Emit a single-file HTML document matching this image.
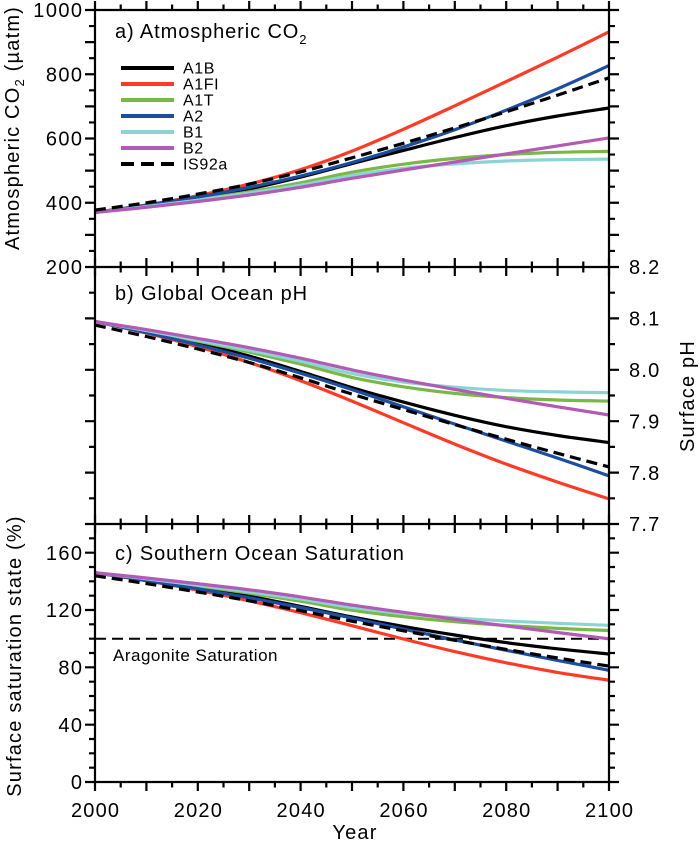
<!DOCTYPE html>
<html><head><meta charset="utf-8"><style>
html,body{margin:0;padding:0;background:#fff;}
svg{display:block;font-family:"Liberation Sans",Arial,Helvetica,sans-serif;}
</style></head><body>
<svg width="700" height="842" viewBox="0 0 700 842" xmlns="http://www.w3.org/2000/svg">
<rect width="700" height="842" fill="#fff"/>

<!-- series panel a -->
<g fill="none" stroke-width="3.2" stroke-linejoin="round" stroke-linecap="butt">
<polyline class="s" stroke="#000" points="95,212.4 146.4,205.6 197.8,198.3 249.2,188.9 300.6,177.1 352,163.6 403.4,150.4 454.8,137.5 506.2,125.7 557.6,116.0 609,108.0"/>
<polyline class="s" stroke="#ff3b26" points="95,212.4 146.4,205.0 197.8,195.7 249.2,184.1 300.6,169.6 352,151.1 403.4,129.3 454.8,105.8 506.2,81.6 557.6,57.2 609,31.8"/>
<polyline class="s" stroke="#79b844" points="95,212.4 146.4,206.3 197.8,199.5 249.2,191.8 300.6,182.8 352,172.2 403.4,164.2 454.8,158.4 506.2,154.6 557.6,152.3 609,151.4"/>
<polyline class="s" stroke="#1b4da0" points="95,212.4 146.4,205.3 197.8,197.0 249.2,187.4 300.6,176.0 352,162.5 403.4,147.0 454.8,129.7 506.2,110.2 557.6,88.8 609,65.6"/>
<polyline class="s" stroke="#8bd4d3" points="95,212.4 146.4,206.6 197.8,200.2 249.2,193.1 300.6,185.1 352,175.4 403.4,168.4 454.8,163.9 506.2,161.0 557.6,159.7 609,159.1"/>
<polyline class="s" stroke="#b25ab5" points="95,212.4 146.4,207.3 197.8,201.5 249.2,195.0 300.6,187.3 352,178.3 403.4,170.0 454.8,162.0 506.2,153.9 557.6,145.9 609,137.9"/>
<polyline class="s" stroke="#000" stroke-dasharray="11 6" points="95,210.1 146.4,202.8 197.8,194.1 249.2,184.1 300.6,171.9 352,157.8 403.4,143.3 454.8,127.9 506.2,111.8 557.6,95.1 609,77.8"/>
</g>

<!-- series panel b -->
<g fill="none" stroke-width="3.2" stroke-linejoin="round">
<polyline class="s" stroke="#000" points="95,321.5 146.4,332.1 197.8,343.1 249.2,356.1 300.6,371.5 352,387.6 403.4,402.1 454.8,415.3 506.2,426.7 557.6,435.5 609,442.5"/>
<polyline class="s" stroke="#ff3b26" points="95,321.5 146.4,333.1 197.8,346.7 249.2,362.5 300.6,380.7 352,401.1 403.4,422.7 454.8,444.1 506.2,464.1 557.6,482.1 609,498.9"/>
<polyline class="s" stroke="#79b844" points="95,321.5 146.4,331.1 197.8,341.2 249.2,352.1 300.6,364.1 352,377.4 403.4,386.8 454.8,393.4 506.2,397.6 557.6,400.0 609,401.1"/>
<polyline class="s" stroke="#1b4da0" points="95,321.5 146.4,332.6 197.8,344.9 249.2,358.2 300.6,373.2 352,389.6 403.4,406.8 454.8,424.1 506.2,441.1 557.6,458.1 609,475.9"/>
<polyline class="s" stroke="#8bd4d3" points="95,321.5 146.4,330.6 197.8,340.3 249.2,350.4 300.6,361.2 352,373.5 403.4,382.0 454.8,387.2 506.2,390.5 557.6,391.9 609,392.7"/>
<polyline class="s" stroke="#b25ab5" points="95,321.5 146.4,329.6 197.8,338.4 249.2,347.7 300.6,358.2 352,369.9 403.4,380.1 454.8,389.4 506.2,398.3 557.6,406.8 609,415.0"/>
<polyline class="s" stroke="#000" stroke-dasharray="11 6" points="95,325.1 146.4,336.5 197.8,349.0 249.2,362.5 300.6,377.8 352,394.1 403.4,409.5 454.8,424.6 506.2,439.2 557.6,453.3 609,466.9"/>
</g>

<!-- aragonite line -->
<line x1="95" y1="638.7" x2="609" y2="638.7" stroke="#000" stroke-width="2" stroke-dasharray="11 6"/>

<!-- series panel c -->
<g fill="none" stroke-width="3.2" stroke-linejoin="round">
<polyline class="s" stroke="#000" points="95,572.7 146.4,580.1 197.8,587.4 249.2,596.2 300.6,606.4 352,617.0 403.4,626.4 454.8,635.0 506.2,642.6 557.6,648.8 609,654.0"/>
<polyline class="s" stroke="#ff3b26" points="95,572.7 146.4,580.8 197.8,590.2 249.2,600.8 300.6,612.7 352,625.7 403.4,639.0 454.8,651.6 506.2,662.8 557.6,672.4 609,680.2"/>
<polyline class="s" stroke="#79b844" points="95,572.7 146.4,579.2 197.8,585.9 249.2,593.2 300.6,601.2 352,610.2 403.4,616.7 454.8,621.7 506.2,625.5 557.6,628.4 609,630.5"/>
<polyline class="s" stroke="#1b4da0" points="95,572.7 146.4,580.5 197.8,588.8 249.2,597.7 300.6,607.5 352,618.1 403.4,629.1 454.8,639.9 506.2,650.3 557.6,660.4 609,670.3"/>
<polyline class="s" stroke="#8bd4d3" points="95,572.7 146.4,578.8 197.8,585.2 249.2,591.9 300.6,599.1 352,607.6 403.4,613.5 454.8,617.8 506.2,621.0 557.6,623.3 609,625.3"/>
<polyline class="s" stroke="#b25ab5" points="95,572.7 146.4,578.0 197.8,583.7 249.2,589.8 300.6,596.9 352,605.1 403.4,612.3 454.8,619.2 506.2,625.9 557.6,632.5 609,638.8"/>
<polyline class="s" stroke="#000" stroke-dasharray="11 6" points="95,575.8 146.4,583.6 197.8,592.0 249.2,600.8 300.6,610.7 352,621.2 403.4,630.8 454.8,640.3 506.2,649.4 557.6,658.0 609,666.1"/>
</g>

<!-- frames -->
<g fill="none" stroke="#000" stroke-width="2.2">
<path d="M95,10H609M95,267H609M95,524H609M95,782H609M95,10V782M609,10V782"/>
<path d="M95,1V10M95,258V276M95,515V533M95,782V791
M146.4,1V10M146.4,258V276M146.4,515V533M146.4,782V791
M197.8,1V10M197.8,258V276M197.8,515V533M197.8,782V791
M249.2,1V10M249.2,258V276M249.2,515V533M249.2,782V791
M300.6,1V10M300.6,258V276M300.6,515V533M300.6,782V791
M352,1V10M352,258V276M352,515V533M352,782V791
M403.4,1V10M403.4,258V276M403.4,515V533M403.4,782V791
M454.8,1V10M454.8,258V276M454.8,515V533M454.8,782V791
M506.2,1V10M506.2,258V276M506.2,515V533M506.2,782V791
M557.6,1V10M557.6,258V276M557.6,515V533M557.6,782V791
M609,1V10M609,258V276M609,515V533M609,782V791"/>
<path d="M120.7,4.5V10M120.7,261.5V272.5M120.7,518.5V529.5M120.7,782V787.5
M172.1,4.5V10M172.1,261.5V272.5M172.1,518.5V529.5M172.1,782V787.5
M223.5,4.5V10M223.5,261.5V272.5M223.5,518.5V529.5M223.5,782V787.5
M274.9,4.5V10M274.9,261.5V272.5M274.9,518.5V529.5M274.9,782V787.5
M326.3,4.5V10M326.3,261.5V272.5M326.3,518.5V529.5M326.3,782V787.5
M377.7,4.5V10M377.7,261.5V272.5M377.7,518.5V529.5M377.7,782V787.5
M429.1,4.5V10M429.1,261.5V272.5M429.1,518.5V529.5M429.1,782V787.5
M480.5,4.5V10M480.5,261.5V272.5M480.5,518.5V529.5M480.5,782V787.5
M531.9,4.5V10M531.9,261.5V272.5M531.9,518.5V529.5M531.9,782V787.5
M583.3,4.5V10M583.3,261.5V272.5M583.3,518.5V529.5M583.3,782V787.5"/>
<path d="M85,10H95M609,10H619
M85,42.13H95M609,42.13H619
M85,74.25H95M609,74.25H619
M85,106.38H95M609,106.38H619
M85,138.5H95M609,138.5H619
M85,170.63H95M609,170.63H619
M85,202.75H95M609,202.75H619
M85,234.88H95M609,234.88H619
M85,267H95M609,267H619
M85,318.4H95M609,318.4H619
M85,369.8H95M609,369.8H619
M85,421.2H95M609,421.2H619
M85,472.6H95M609,472.6H619
M85,524H95M609,524H619
M85,552.67H95M609,552.67H619
M85,610H95M609,610H619
M85,667.33H95M609,667.33H619
M85,724.67H95M609,724.67H619
M85,782H95M609,782H619"/>
<path d="M89,26.06H95M609,26.06H615
M89,58.19H95M609,58.19H615
M89,90.31H95M609,90.31H615
M89,122.44H95M609,122.44H615
M89,154.56H95M609,154.56H615
M89,186.69H95M609,186.69H615
M89,218.81H95M609,218.81H615
M89,250.94H95M609,250.94H615
M89,292.7H95M609,292.7H615
M89,344.1H95M609,344.1H615
M89,395.5H95M609,395.5H615
M89,446.9H95M609,446.9H615
M89,498.3H95M609,498.3H615
M89,538.33H95M609,538.33H615
M89,567H95M609,567H615
M89,581.33H95M609,581.33H615
M89,595.67H95M609,595.67H615
M89,624.33H95M609,624.33H615
M89,638.67H95M609,638.67H615
M89,653H95M609,653H615
M89,681.67H95M609,681.67H615
M89,696H95M609,696H615
M89,710.33H95M609,710.33H615
M89,739H95M609,739H615
M89,753.33H95M609,753.33H615
M89,767.67H95M609,767.67H615"/>
</g>

<!-- legend -->
<g fill="none" stroke-width="4">
<line x1="121" y1="68" x2="174" y2="68" stroke="#000"/>
<line x1="121" y1="84" x2="174" y2="84" stroke="#ff3b26"/>
<line x1="121" y1="100" x2="174" y2="100" stroke="#79b844"/>
<line x1="121" y1="116" x2="174" y2="116" stroke="#1b4da0"/>
<line x1="121" y1="132" x2="174" y2="132" stroke="#8bd4d3"/>
<line x1="121" y1="148" x2="174" y2="148" stroke="#b25ab5"/>
<line x1="121" y1="164" x2="174" y2="164" stroke="#000" stroke-dasharray="13 7"/>
</g>
<g font-size="16" letter-spacing="0.6" fill="#000">
<text x="183" y="73.7">A1B</text>
<text x="183" y="89.7">A1FI</text>
<text x="183" y="105.7">A1T</text>
<text x="183" y="121.7">A2</text>
<text x="183" y="137.7">B1</text>
<text x="183" y="153.7">B2</text>
<text x="183" y="169.7">IS92a</text>
</g>

<!-- titles -->
<g font-size="20" letter-spacing="0.9" fill="#000">
<text x="115" y="38">a) Atmospheric CO<tspan font-size="13" dy="6">2</tspan></text>
<text x="115" y="300">b) Global Ocean pH</text>
<text x="115" y="560">c) Southern Ocean Saturation</text>
</g>
<text x="113" y="661" font-size="17" letter-spacing="0.5" fill="#000">Aragonite Saturation</text>

<!-- tick labels -->
<g font-size="20" letter-spacing="1.4" fill="#000" text-anchor="end">
<text x="83.4" y="17.2">1000</text>
<text x="83.4" y="81.4">800</text>
<text x="83.4" y="145.7">600</text>
<text x="83.4" y="209.9">400</text>
<text x="83.4" y="274.2">200</text>
<text x="83.4" y="559.9">160</text>
<text x="83.4" y="617.2">120</text>
<text x="83.4" y="674.5">80</text>
<text x="83.4" y="731.9">40</text>
<text x="83.4" y="789.2">0</text>
</g>
<g font-size="20" letter-spacing="1.2" fill="#000">
<text x="629" y="274.2">8.2</text>
<text x="629" y="325.6">8.1</text>
<text x="629" y="377">8.0</text>
<text x="629" y="428.4">7.9</text>
<text x="629" y="479.8">7.8</text>
<text x="629" y="531.2">7.7</text>
</g>
<g font-size="20" letter-spacing="1.2" fill="#000" text-anchor="middle">
<text x="95.6" y="817">2000</text>
<text x="198.4" y="817">2020</text>
<text x="301.2" y="817">2040</text>
<text x="404" y="817">2060</text>
<text x="506.8" y="817">2080</text>
<text x="609.6" y="817">2100</text>
</g>

<!-- axis titles -->
<g font-size="20" letter-spacing="1.2" fill="#000" text-anchor="middle">
<text x="355" y="839">Year</text>
<text transform="translate(19,128) rotate(-90)">Atmospheric CO<tspan font-size="13" dy="5">2</tspan><tspan dy="-5"> (µatm)</tspan></text>
<text transform="translate(21,656) rotate(-90)">Surface saturation state (%)</text>
<text transform="translate(694,396) rotate(-90)">Surface pH</text>
</g>
</svg>
<script>
(function(){
var NS='http://www.w3.org/2000/svg';
var pls=document.querySelectorAll('polyline.s');
for(var k=0;k<pls.length;k++){
 var pl=pls[k];
 var pts=pl.getAttribute('points').trim().split(/\s+/).map(function(p){return p.split(',').map(Number);});
 var d='M'+pts[0][0]+','+pts[0][1];
 for(var i=0;i<pts.length-1;i++){
  var p0=pts[i>0?i-1:0],p1=pts[i],p2=pts[i+1],p3=pts[i+2<pts.length?i+2:i+1];
  var c1x=p1[0]+(p2[0]-p0[0])/6,c1y=p1[1]+(p2[1]-p0[1])/6;
  var c2x=p2[0]-(p3[0]-p1[0])/6,c2y=p2[1]-(p3[1]-p1[1])/6;
  d+='C'+c1x.toFixed(2)+','+c1y.toFixed(2)+' '+c2x.toFixed(2)+','+c2y.toFixed(2)+' '+p2[0]+','+p2[1];
 }
 var path=document.createElementNS(NS,'path');
 for(var j=0;j<pl.attributes.length;j++){var a=pl.attributes[j];if(a.name!=='points'&&a.name!=='class')path.setAttribute(a.name,a.value);}
 path.setAttribute('d',d);
 pl.parentNode.replaceChild(path,pl);
}
})();
</script>
</body></html>
